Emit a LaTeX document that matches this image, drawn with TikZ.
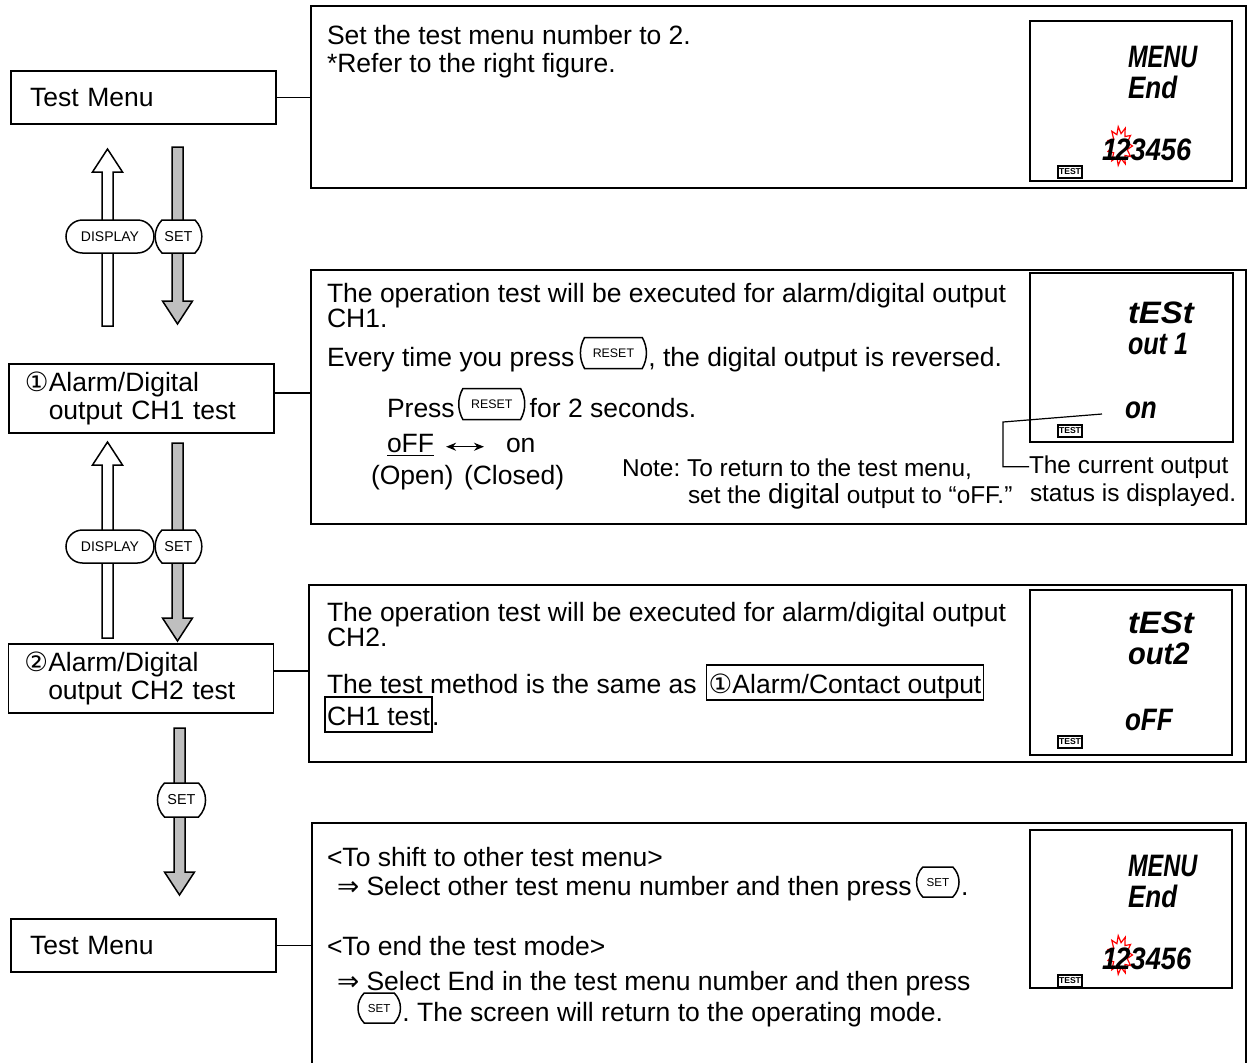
\documentclass[tikz,border=0pt]{standalone}
\usepackage{fontspec}
\setmainfont{Liberation Sans}
\newfontfamily\symfont{DejaVu Sans}
\usetikzlibrary{shapes.misc,calc,arrows.meta}
\frenchspacing
\newcommand\fatarrow[3]{%
  \draw[#1] let \p1=(#2), \p2=(#3), \n1={sign(\y2-\y1)} in
    (\x1-2.75pt,\y1) -- (\x1-2.75pt,\y2-\n1*11.5pt) -- (\x1-7.5pt,\y2-\n1*11.5pt)
    -- (\x1,\y2) -- (\x1+7.5pt,\y2-\n1*11.5pt) -- (\x1+2.75pt,\y2-\n1*11.5pt)
    -- (\x1+2.75pt,\y1) -- cycle;}
\newcommand\lcdstar[2]{%
  \draw[red, line width=0.6pt, line join=miter] plot[samples at={0,...,21}, variable=\k]
    ({#1+(mod(\k,2)==0?12.5:7.5)*cos(\k*360/22)}, {#2+(mod(\k,2)==0?19.5:12.5)*sin(\k*360/22)}) -- cycle;}
\begin{document}
\frenchspacing
\begin{tikzpicture}[x=0.5pt,y=-0.5pt,
  every node/.style={inner sep=0pt, outer sep=0pt},
  txt/.style={anchor=base west, font=\fontsize{13.25}{15}\selectfont},
  sml/.style={anchor=base west, font=\fontsize{12.2}{14}\selectfont},
  lbox/.style={draw, line width=0.75pt, minimum width=132.5pt, align=left, font=\fontsize{13.25}{14}\selectfont},
  rbox/.style={draw, line width=0.75pt},
  lcdbox/.style={draw, line width=1.2pt, minimum width=101pt},
  lcd/.style={anchor=base west, text height=11pt, text depth=0pt, font=\fontsize{15.5}{15.5}\selectfont\bfseries\itshape},
  testbadge/.style={draw, line width=0.7pt, minimum width=12pt, minimum height=6pt, font=\fontsize{4.3}{5}\selectfont\bfseries},
  hollow/.style={draw, fill=white, line width=0.75pt},
  solid/.style={draw, fill=black!25, line width=0.75pt},
  dispkey/.style={draw, fill=white, line width=0.75pt, rounded rectangle, minimum height=16.5pt, minimum width=44pt, font=\fontsize{7}{7}\selectfont},
  bigset/.style={draw, fill=white, line width=0.75pt, rounded rectangle, rounded rectangle arc length=90, minimum height=16.5pt, minimum width=20.5pt, font=\fontsize{7.2}{7}\selectfont},
  resetkey/.style={draw, line width=0.75pt, rounded rectangle, rounded rectangle arc length=60, minimum height=15.5pt, minimum width=33pt, font=\fontsize{6.2}{6}\selectfont},
  setkey/.style={draw, line width=0.75pt, rounded rectangle, rounded rectangle arc length=90, minimum height=15pt, minimum width=14pt, font=\fontsize{5.8}{6}\selectfont},
  frm/.style={draw, line width=0.75pt, anchor=base west, inner xsep=1pt, inner ysep=1.5pt, text height=12.5pt, text depth=2pt, font=\fontsize{13.25}{15}\selectfont}
]
\useasboundingbox (0,0) rectangle (1248,1062);
\clip (0,0) rectangle (1248,1062);

% ---------- left column boxes ----------
\node[lbox, minimum height=26.5pt, text width=113.5pt] (tm1) at (143.5,97.5) {Test Menu};
\node[lbox, minimum height=34.5pt, text width=116.5pt] (b2) at (141.5,398.5) {{\symfont ①}Alarm/Digital\\\hphantom{\symfont ①}output CH1 test};
\node[lbox, minimum height=34.5pt, text width=116.5pt] (b3) at (141,678.5) {{\symfont ②}Alarm/Digital\\\hphantom{\symfont ②}output CH2 test};
\node[lbox, minimum height=26.5pt, text width=113.5pt] (tm2) at (143.5,945.5) {Test Menu};

% ---------- right boxes ----------
\node[rbox, minimum width=467.5pt, minimum height=91pt] (r1) at (778.5,97) {};
\node[rbox, minimum width=467.5pt, minimum height=127pt] (r2) at (778.5,397) {};
\node[rbox, minimum width=468.5pt, minimum height=88.5pt] (r3) at (777.5,673.5) {};
\node[rbox, minimum width=467pt, minimum height=130pt] (r4) at (779,953) {};

% connectors
\draw[line width=0.75pt] (tm1.east) -- (tm1.east -| r1.west);
\draw[line width=0.75pt] ([yshift=2.75pt]b2.east) -- ([yshift=2.75pt]b2.east -| r2.west);
\draw[line width=0.75pt] ([yshift=3.75pt]b3.east) -- ([yshift=3.75pt]b3.east -| r3.west);
\draw[line width=0.75pt] (tm2.east) -- (tm2.east -| r4.west);

% ---------- arrows ----------
\coordinate (u1a) at (107.5,326); \coordinate (u1b) at (107.5,149);
\coordinate (d1a) at (177.5,147); \coordinate (d1b) at (177.5,324);
\coordinate (u2a) at (107.5,638); \coordinate (u2b) at (107.5,442);
\coordinate (d2a) at (177.5,443); \coordinate (d2b) at (177.5,641);
\coordinate (d3a) at (179.5,728); \coordinate (d3b) at (179.5,895);
\fatarrow{hollow}{u1a}{u1b}
\fatarrow{solid}{d1a}{d1b}
\fatarrow{hollow}{u2a}{u2b}
\fatarrow{solid}{d2a}{d2b}
\fatarrow{solid}{d3a}{d3b}
\node[dispkey] (kd1) at (110,236.5) {DISPLAY};
\node[bigset] (ks1) at (178.5,236.5) {SET};
\node[dispkey] (kd2) at (110,546.5) {DISPLAY};
\node[bigset] (ks2) at (178.5,546.5) {SET};
\node[bigset, minimum height=17pt, minimum width=20pt] (ks3) at (181.5,800) {SET};

% ---------- box 1 ----------
\node[txt] (t11) at (327,44) {Set the test menu number to 2.};
\node[txt] (t12) at (327,72) {*Refer to the right figure.};

% ---------- box 2 ----------
\node[txt] (t21) at (327,302) {The operation test will be executed for alarm/digital output};
\node[txt] (t22) at (327,327) {CH1.};
\node[txt] (t23) at (327,366) {Every time you press};
\node[resetkey, anchor=west] (k1) at ($(t23.base east)+(6,-13)$) {RESET};
\node[txt] (t24) at ($(k1.east |- t23.base)+(2,0)$) {, the digital output is reversed.};
\node[txt] (t25) at (387,417) {Press};
\node[resetkey, anchor=west] (k2) at ($(t25.base east)+(4,-13)$) {RESET};
\node[txt] (t26) at ($(k2.east |- t25.base)+(5,0)$) {for 2 seconds.};
\node[txt] (off) at (387,452) {\underline{oFF}};
\node[txt] (on) at (506,452) {on};
\draw[{Stealth[length=5pt,width=4pt]}-{Stealth[length=5pt,width=4pt]}, line width=0.7pt] ([xshift=6pt]off.mid east) -- ([xshift=-11pt]on.mid west);
\node[txt] (op) at (371,484) {(Open)};
\node[txt] (cl) at (464,484) {(Closed)};
\node[sml] (n1) at (622,476) {Note: To return to the test menu,};
\node[sml] (n2) at (688,503) {set the {\fontsize{13.8}{15}\selectfont digital} output to “oFF.”};
\node[sml] (c1) at (1029,473) {The current output};
\node[sml] (c2) at (1030,501) {status is displayed.};

% ---------- box 3 ----------
\node[txt] (t31) at (327,621) {The operation test will be executed for alarm/digital output};
\node[txt] (t32) at (327,646) {CH2.};
\node[txt] (t33) at (327,693) {The test method is the same as};
\node[frm] (ref1) at ($(t33.base east)+(10,0)$) {{\symfont ①}Alarm/Contact output};
\node[frm] (ref2) at (325,725) {CH1 test};
\node[txt] (t34) at (ref2.base east) {.};

% ---------- box 4 ----------
\node[txt] (t41) at (327,866) {<To shift to other test menu>};
\node[txt] (t42) at (337,895) {{\symfont ⇒} Select other test menu number and then press};
\node[setkey, anchor=west] (k3) at ($(t42.base east)+(5,-13)$) {SET};
\node[txt] (t43) at ($(k3.east |- t42.base)+(2,0)$) {.};
\node[txt] (t44) at (327,955) {<To end the test mode>};
\node[txt] (t45) at (337,990) {{\symfont ⇒} Select End in the test menu number and then press};
\coordinate (l5) at (358,1021);
\node[setkey, anchor=west] (k4) at ($(l5)+(0,-13)$) {SET};
\node[txt] (t46) at ($(k4.east |- l5)+(2,0)$) {. The screen will return to the operating mode.};

% ---------- LCD panels ----------
\node[lcdbox, minimum height=80pt] (lcd1) at (1131,101) {};
\node[lcdbox, minimum width=101.5pt, minimum height=84.5pt] (lcd2) at (1131.5,357.5) {};
\node[lcdbox, minimum height=82.5pt] (lcd3) at (1131,672.5) {};
\node[lcdbox, minimum height=79pt] (lcd4) at (1131,909) {};

% LCD 1
\node[lcd] (m1) at (1128,67) {\scalebox{0.76}[1]{MENU}};
\node[lcd] (e1) at (1128,98) {\scalebox{0.84}[1]{End}};
\lcdstar{1120}{146}
\node[lcd] (n1x) at (1102,160) {\scalebox{0.88}[1]{1\kern-1pt 23456}};
\node[testbadge] (tb1) at (1070,172) {TEST};
% LCD 2
\node[lcd] (ts2) at (1128,323) {\scalebox{1.06}[1]{tESt}};
\node[lcd] (o2) at (1128,354) {\scalebox{0.81}[1]{out 1}};
\node[lcd] (on2) at (1125,418) {\scalebox{0.84}[1]{on}};
\node[testbadge] (tb2) at (1070,431) {TEST};
\coordinate (cA) at (1102,414);
\coordinate (cB) at (1003,422);
\draw[line width=0.6pt] (cA) -- (cB) |- (c1.west);
% LCD 3
\node[lcd] (ts3) at (1128,633) {\scalebox{1.06}[1]{tESt}};
\node[lcd] (o3) at (1128,664) {\scalebox{0.94}[1]{out2}};
\node[lcd] (of3) at (1125,730) {\scalebox{0.84}[1]{oFF}};
\node[testbadge] (tb3) at (1070,742) {TEST};
% LCD 4
\node[lcd] (m4) at (1128,876) {\scalebox{0.76}[1]{MENU}};
\node[lcd] (e4) at (1128,907) {\scalebox{0.84}[1]{End}};
\lcdstar{1120}{955}
\node[lcd] (n4x) at (1102,969) {\scalebox{0.88}[1]{1\kern-1pt 23456}};
\node[testbadge] (tb4) at (1070,981) {TEST};
\end{tikzpicture}
\end{document}
